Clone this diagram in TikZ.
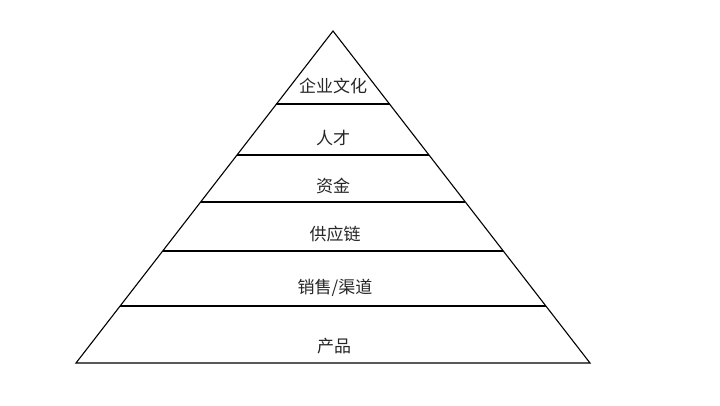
\documentclass[tikz,border=0pt]{standalone}
\usepackage{fontspec}
\newfontfamily\cjk{Noto Sans CJK SC}
\begin{document}
\begin{tikzpicture}[x=1pt,y=-1pt,
  edge/.style={draw=black,line width=1.1pt},
  layer/.style={font=\cjk\fontsize{17}{20}\selectfont,text=black!85,inner sep=0pt}]
\useasboundingbox[fill=white] (0,0) rectangle (720,405);
\coordinate (apex) at (333,31);
\coordinate (bl) at (76,363);
\coordinate (br) at (590,363);
\draw[edge,line join=miter] (apex) -- (bl) -- (br) -- cycle;
\foreach \yy [count=\i] in {104,155,202,251,306}{
  \coordinate (l\i) at ({333-0.7741*(\yy-31)},\yy);
  \coordinate (r\i) at ({333+0.7741*(\yy-31)},\yy);
  \draw[edge] (l\i) -- (r\i);
}
\node[layer] (t1) at (333,86) {企业文化};
\node[layer] (t2) at (333,138) {人才};
\node[layer] (t3) at (333,186) {资金};
\node[layer] (t4) at (335,234) {供应链};
\node[layer] (t5) at (335,288) {销售/渠道};
\node[layer] (t6) at (334,346) {产品};
\end{tikzpicture}
\end{document}
